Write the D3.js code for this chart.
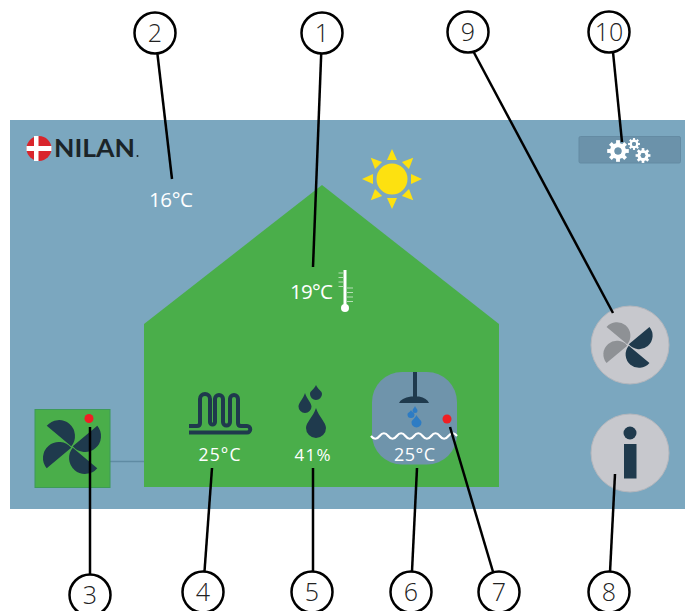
<!DOCTYPE html>
<html><head><meta charset="utf-8">
<style>html,body{margin:0;padding:0;background:#fff}svg{display:block}text{font-family:"Open Sans",sans-serif}</style>
<script src="https://cdnjs.cloudflare.com/ajax/libs/d3/7.8.5/d3.min.js"></script>
</head><body><svg id="c" width="685" height="611"></svg>
<script>
// content
const calloutLabels = ["1","2","3","4","5","6","7","8","9","10"];
const outdoorTemp = "16°C", indoorTemp = "19°C", floorTemp = "25°C", humidity = "41%", waterTemp = "25°C";
const brand = "NILAN";
// layout (diagram geometry, px)
const calloutCx = [322,155,90,203,312,411,499,609,468,609];
const calloutCy = [33,33,595,592,592,592,592,592,32,32];
const leaderStart = [[322,33],[155,33],[90,595],[203,592],[313,592],[411,592],[499,592],[609,592],[463,32],[611,32]];
const leaderEnd = [[313,267],[172,179],[90,427],[212,468],[313,468],[417,468],[450,427],[615,474],[613,313],[622,142]];
const fanAngles = [-40,40,140,220];

const svg = d3.select("#c");
const line = d3.line();
const BG="#7ba7bf", GREEN="#4aae4a", DARK="#1f3a4d";

svg.append("rect").attr("x",10).attr("y",120).attr("width",675).attr("height",389).attr("fill",BG);
svg.append("path").attr("fill",GREEN)
  .attr("d",line([[144,487],[144,324],[322,185],[499,324],[499,487]])+"Z");

// connector
svg.append("line").attr("x1",110).attr("x2",144).attr("y1",461.5).attr("y2",461.5).attr("stroke","#5f8ba3").attr("stroke-width",1.5);

function fan(cx,cy,len,colors){
  const g=svg.append("g").attr("transform",`translate(${cx},${cy})`);
  const r=(len-1)/2;
  g.selectAll("path").data(fanAngles).join("path")
    .attr("transform",d=>`rotate(${d})`)
    .attr("d",`M1,0 L${len},0 A${r},${r} 0 0 1 1,0Z`)
    .attr("fill",(d,i)=>colors[i]);
}

// logo
svg.append("circle").attr("cx",39).attr("cy",148.5).attr("r",12.5).attr("fill","#d9252c");
svg.append("rect").attr("x",26.5).attr("y",146).attr("width",25).attr("height",5).attr("fill","#fff");
svg.append("rect").attr("x",34).attr("y",136).attr("width",4.5).attr("height",25).attr("fill","#fff");
svg.append("text").attr("x",54).attr("y",157).attr("font-size",25).attr("font-weight",700).attr("textLength",81).attr("lengthAdjust","spacingAndGlyphs").attr("fill","#1b2428").style("font-family","Lato").text(brand);
svg.append("circle").attr("cx",137.5).attr("cy",156).attr("r",1).attr("fill","#1b2428");

// temp labels
function label(t,x,y,size,w,weight){
  svg.append("text").attr("x",x).attr("y",y).attr("font-size",size).attr("font-weight",weight||400).attr("fill","#fff").attr("textLength",w).attr("lengthAdjust","spacing").text(t);
}
label(outdoorTemp,149,206.5,20.5,44);
label(indoorTemp,290,298.5,20.5,43);
label(floorTemp,198.5,461,17.5,42);
label(humidity,294.5,461,17,36);

// sun
const sun=svg.append("g").attr("transform","translate(392,179)").attr("fill","#fde110");
sun.append("circle").attr("r",15.5);
sun.selectAll("path").data(d3.range(8)).join("path").attr("transform",d=>`rotate(${d*45})`).attr("d","M-5,-19 L5,-19 L0,-30Z");

// thermometer
const th=svg.append("g").attr("stroke","#fff").attr("fill","none");
th.append("line").attr("x1",345).attr("x2",345).attr("y1",270).attr("y2",306).attr("stroke-width",3);
th.append("circle").attr("cx",345).attr("cy",308).attr("r",4).attr("fill","#fff").attr("stroke","none");
th.selectAll("line.l").data(d3.range(4)).join("line").attr("class","l").attr("x1",338.5).attr("x2",343).attr("y1",d=>273+d*4.5).attr("y2",d=>273+d*4.5).attr("stroke-width",1).attr("stroke-opacity",.6);
th.selectAll("line.r").data(d3.range(4)).join("line").attr("class","r").attr("x1",347).attr("x2",353).attr("y1",d=>288+d*4.5).attr("y2",d=>288+d*4.5).attr("stroke-width",1).attr("stroke-opacity",.6);

// settings button
svg.append("rect").attr("x",579).attr("y",136.5).attr("width",101.5).attr("height",26.5).attr("rx",1.5).attr("fill","#6b92aa").attr("stroke","#648ba3");
function gear(cx,cy,r,hole,teeth){
  const g=svg.append("g").attr("transform",`translate(${cx},${cy})`);
  g.selectAll("rect").data(d3.range(teeth)).join("rect").attr("transform",d=>`rotate(${d*360/teeth})`)
    .attr("x",-r*.24).attr("y",-r*1.35).attr("width",r*.48).attr("height",r*.7).attr("fill","#fff");
  g.append("circle").attr("fill","none").attr("stroke","#fff").attr("stroke-width",r-hole).attr("r",(r+hole)/2);
  g.append("circle").attr("r",hole).attr("fill","#6b92aa");
}
gear(618,151,8,3.5,8);
gear(634,144,4.4,2,8);
gear(643,155.5,5.5,2.4,8);

// right buttons
svg.append("circle").attr("cx",630).attr("cy",345).attr("r",39).attr("fill","#c7c8cd").attr("stroke","#b5b7bd");
fan(628,345,28,["#1f3a4d","#1f3a4d","#8e9195","#8e9195"]);
svg.append("circle").attr("cx",630).attr("cy",453).attr("r",39).attr("fill","#c7c8cd").attr("stroke","#b5b7bd");
svg.append("circle").attr("cx",630).attr("cy",433).attr("r",6.5).attr("fill",DARK);
svg.append("rect").attr("x",624).attr("y",444).attr("width",12.5).attr("height",34.5).attr("fill",DARK);

// left fan box
svg.append("rect").attr("x",35).attr("y",409.5).attr("width",75).attr("height",78).attr("fill",GREEN).attr("stroke","#3d9a58");
fan(72,447,33,d3.range(4).map(()=> "#1f3a4d"));
svg.append("circle").attr("cx",89).attr("cy",418.5).attr("r",4.5).attr("fill","#f01f24");

// floor heating
svg.append("path").attr("fill","none").attr("stroke",DARK).attr("stroke-width",4)
  .attr("d","M189,426 H197 Q200,426 200,423 V399 a5,5 0 0 1 10,0 V422 a2.5,2.5 0 0 0 5,0 V399 a4,4 0 0 1 8,0 V422 a3.5,3.5 0 0 0 7,0 V399 a4,4 0 0 1 8,0 V423 Q238,426 241,426 H247 a3.2,3.2 0 0 1 0,6.5 H189");

// droplets
function drop(cx,tip,w,h,fill){
  const r=w/2, cy=tip+h-r;
  svg.append("path").attr("fill",fill).attr("d",`M${cx},${tip} C${cx+r*.3},${tip+h*.3} ${cx+r},${cy-r*.55} ${cx+r},${cy} A${r},${r} 0 1 1 ${cx-r},${cy} C${cx-r},${cy-r*.55} ${cx-r*.3},${tip+h*.3} ${cx},${tip}Z`);
}
drop(316,385,12,15,DARK);
drop(305,393,13,20,DARK);
drop(316,408,20,30,DARK);

// hot water tile
svg.append("rect").attr("x",372).attr("y",372).attr("width",85).attr("height",92.5).attr("rx",30).attr("fill","#6f94ab");
svg.append("rect").attr("x",413).attr("y",372).attr("width",4).attr("height",25).attr("fill",DARK);
svg.append("path").attr("fill",DARK).attr("d","M399,403 Q401,398 411,396.5 H419 Q427,398 429,403Z");
drop(415,406,5,7,"#2d7cc4");
drop(411,410,7,8,"#2d7cc4");
drop(416.5,415,10,12.5,"#2d7cc4");
svg.append("circle").attr("cx",447).attr("cy",419).attr("r",4.5).attr("fill","#f01f24");
svg.append("path").attr("fill","none").attr("stroke","#fff").attr("stroke-width",2.2)
  .attr("d","M371,436 "+d3.range(5).map(()=> "q4.3,5.5 8.6,0 q4.3,-5.5 8.6,0").join(" "));
label(waterTemp,394,461,18,41);

// leaders and callouts
const idx=d3.range(calloutLabels.length);
svg.append("g").selectAll("line").data(idx).join("line")
  .attr("x1",i=>leaderStart[i][0]).attr("y1",i=>leaderStart[i][1])
  .attr("x2",i=>leaderEnd[i][0]).attr("y2",i=>leaderEnd[i][1])
  .attr("stroke","#000").attr("stroke-width",2.5);
const cg=svg.append("g").selectAll("g").data(idx).join("g").attr("transform",i=>`translate(${calloutCx[i]},${calloutCy[i]})`);
cg.append("circle").attr("r",20.5).attr("fill","#fff").attr("stroke","#000").attr("stroke-width",2.5);
cg.append("text").attr("text-anchor","middle").attr("y",9).attr("font-size",25).attr("font-weight",300).attr("fill","#222").text(i=>calloutLabels[i]);
</script></body></html>
